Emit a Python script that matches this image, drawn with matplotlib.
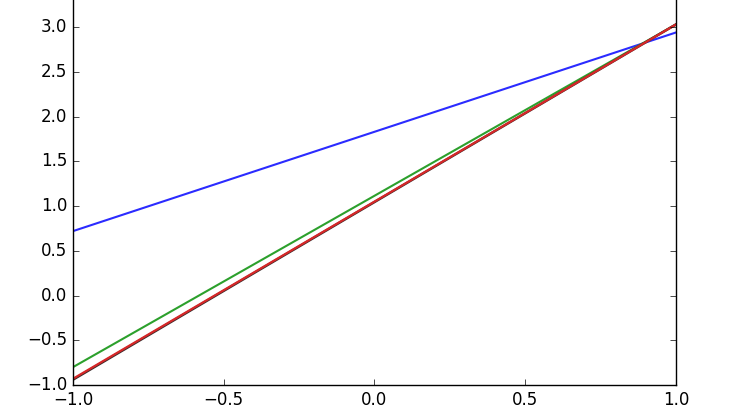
import matplotlib
matplotlib.use("Agg")
from matplotlib import pyplot as plt
import numpy as np

plt.style.use('classic')

# endpoints of the fitted lines
x = np.array([-1.0, 1.0])
true_y = np.array([-0.94, 3.03])
red_y = np.array([-0.93, 3.03])
green_y = np.array([-0.80, 3.03])
blue_y = np.array([0.72, 2.94])

fig = plt.figure(figsize=(7.33, 4.19), dpi=100)
fig.patch.set_facecolor('white')
# top of the axes runs off the top of the figure, as in the reference
ax = fig.add_axes([0.0996, 0.0811, 0.8226, 0.961])

ax.plot(x, blue_y, color='#2b2bff', lw=1.5)
ax.plot(x, green_y, color='#2ca02c', lw=1.5)
ax.plot(x, true_y, color='#3a2a2a', lw=1.8)
ax.plot(x, red_y, color='#d62728', lw=1.6)

ax.set_xlim(-1.0, 1.0)
ax.set_ylim(-1.0, 3.5)
ax.set_xticks([-1.0, -0.5, 0.0, 0.5, 1.0])
ax.set_yticks(np.arange(-1.0, 3.01, 0.5))

fig.savefig('out.png', dpi=100, facecolor='white')
